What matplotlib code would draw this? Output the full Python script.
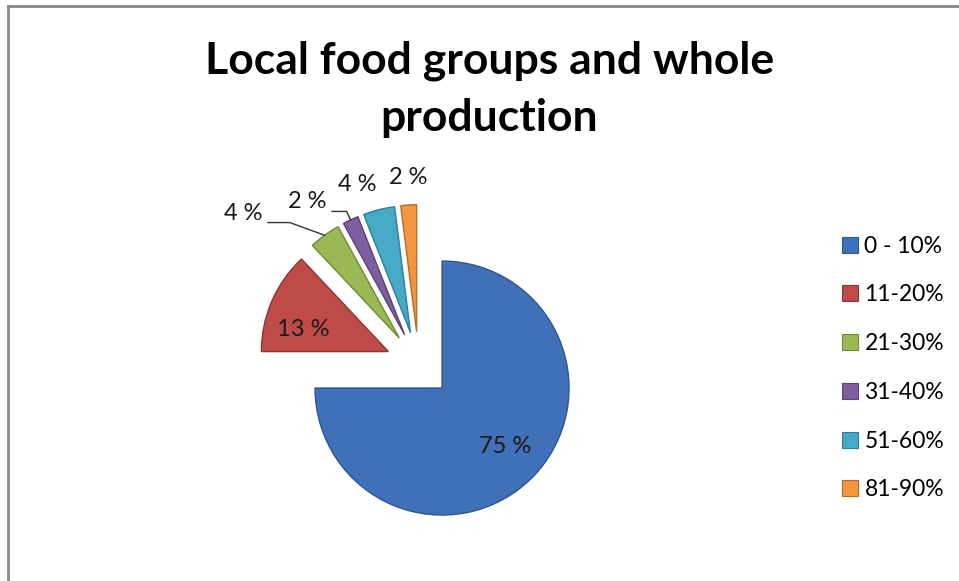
import numpy as np
import matplotlib
matplotlib.use('Agg')
import matplotlib.pyplot as plt

plt.rcParams['font.family'] = ['Lato', 'DejaVu Sans']

# data
title = 'Local food groups and whole\nproduction'
categories = ['0 - 10%', '11-20%', '21-30%', '31-40%', '51-60%', '81-90%']
shares = [75, 13, 4, 2, 4, 2]
colors = ['#3F70B8', '#BE4B48', '#98B954', '#7D5FA0', '#46A9C6', '#F49540']
edges = ['#2E5690', '#8E3432', '#6F8A3A', '#5A4379', '#2F7F96', '#B86A26']

# label placement (distance in radii, angle in degrees) from each wedge's own centre
lab_dist = [0.68, 0.69, 1.576, 1.298, 1.237, 1.213]
lab_ang = [-43, 165.5, 141.4, 126.3, 109.9, 93.2]
leader = [False, False, True, True, False, False]
leader_angle = [0, 0, -20, -65, 0, 0]

W, H = 959, 581
fig = plt.figure(figsize=(W / 100, H / 100), dpi=100)
ax = fig.add_axes([0, 0, 1, 1])

cx, cy, rad = 418.7, 364.7, 127.0   # pie centre / radius in pixels
wedges, _ = ax.pie(shares, colors=colors, startangle=90, counterclock=False,
                   explode=[0.26] * len(shares), radius=1,
                   wedgeprops=dict(linewidth=1.0))
for w, ec in zip(wedges, edges):
    w.set_edgecolor(ec)

ax.set_aspect('auto')
ax.set_xlim(-cx / rad, (W - cx) / rad)
ax.set_ylim(-(H - cy) / rad, cy / rad)
ax.axis('off')

for i, w in enumerate(wedges):
    wx, wy = w.center
    a = np.deg2rad(lab_ang[i])
    tx, ty = wx + lab_dist[i] * np.cos(a), wy + lab_dist[i] * np.sin(a)
    txt = f'{shares[i]} %'
    if leader[i]:
        mid = np.deg2rad((w.theta1 + w.theta2) / 2)
        px, py = wx + w.r * np.cos(mid), wy + w.r * np.sin(mid)
        ax.annotate(txt, xy=(px, py), xytext=(tx, ty), ha='center', va='center',
                    fontsize=17, color='#1a1a1a',
                    arrowprops=dict(arrowstyle='-', color='#333333', lw=1.0,
                                    relpos=(1.0, 0.05), shrinkA=2, shrinkB=0,
                                    connectionstyle=f'angle,angleA=0,angleB={leader_angle[i]},rad=0'))
    else:
        ax.text(tx, ty, txt, ha='center', va='center', fontsize=17, color='#1a1a1a')

fig.text(0.510, 0.846, title, ha='center', va='center', fontsize=32,
         fontweight='bold', linespacing=1.5)

leg = fig.legend(wedges, categories, loc='upper left', bbox_to_anchor=(0.868, 0.610),
                 frameon=False, fontsize=16.5, handlelength=0.7, handleheight=0.7,
                 handletextpad=0.3, labelspacing=1.21, borderaxespad=0)
for h in leg.legend_handles:
    h.set_linewidth(0.8)

# chart area border (top and left visible)
fig.add_artist(plt.Line2D([8 / W, 1], [1 - 6 / H, 1 - 6 / H], color='#888888', lw=2))
fig.add_artist(plt.Line2D([8 / W, 8 / W], [0, 1 - 6 / H], color='#888888', lw=2))

fig.savefig('out.png', dpi=100)
